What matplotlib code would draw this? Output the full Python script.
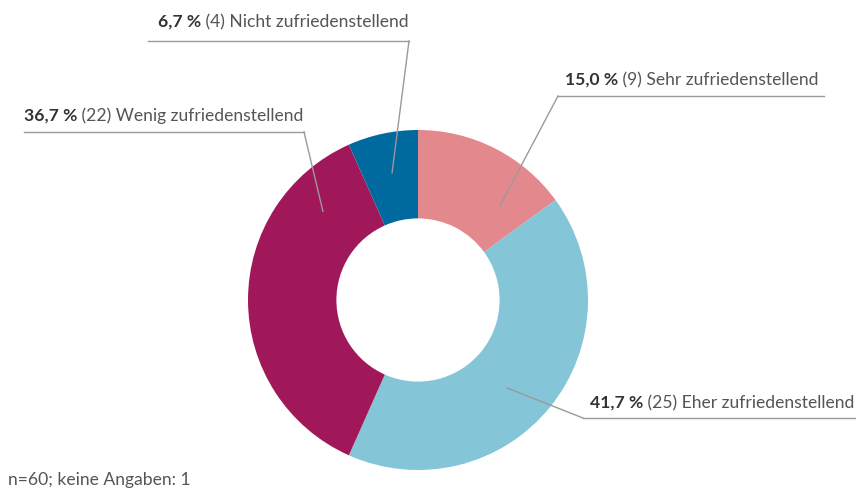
import matplotlib
matplotlib.use("Agg")
import matplotlib.pyplot as plt
import numpy as np

categories = ["Sehr zufriedenstellend", "Eher zufriedenstellend",
              "Wenig zufriedenstellend", "Nicht zufriedenstellend"]
counts = [9, 25, 22, 4]
colors = ["#E3898D", "#84C5D8", "#A1185A", "#00699D"]
footnote = "n=60; keine Angaben: 1"

W, H = 856, 490
fig = plt.figure(figsize=(W / 100, H / 100), dpi=100)
ax = fig.add_axes([0, 0, 1, 1])

cx, cy, R = 418, H - 300, 170
wedges, _ = ax.pie(counts, colors=colors, startangle=90, counterclock=False,
                   center=(cx, cy), radius=R, frame=True,
                   wedgeprops=dict(width=0.52 * R, linewidth=0))
ax.set_xlim(0, W)
ax.set_ylim(0, H)
ax.set_aspect("equal")
ax.axis("off")

FS = 12.6
total = sum(counts)
# label layout: (text x, text y centre, underline y, underline x0, x1, leader angle deg, leader radius)
layout = [
    (565, H - 80, H - 96, 558, 824, 49, 125),
    (590, H - 403, H - 418, 583, 856, -44.7, 125),
    (24, H - 116, H - 132, 24, 304, 137, 130),
    (158, H - 22, H - 41, 148, 409, 101.5, 130),
]
line_col = "#9a9a9a"
renderer = fig.canvas.get_renderer()
for cat, n, (tx, ty, uy, ux0, ux1, ang, lr) in zip(categories, counts, layout):
    pct = f"{100 * n / total:.1f}".replace(".", ",") + " %"
    t1 = ax.text(tx, ty, pct, fontsize=FS, fontweight="bold", color="#333333",
                 family="Lato", va="center", ha="left")
    bb = t1.get_window_extent(renderer=renderer)
    x_after = ax.transData.inverted().transform((bb.x1, bb.y0))[0]
    ax.text(x_after, ty, f" ({n}) {cat}", fontsize=FS, color="#555555",
            family="Lato", va="center", ha="left")
    ax.plot([ux0, ux1], [uy, uy], color=line_col, lw=1)
    px = cx + lr * np.cos(np.radians(ang))
    py = cy + lr * np.sin(np.radians(ang))
    ex = ux0 if abs(ux0 - cx) < abs(ux1 - cx) else ux1
    ax.plot([ex, px], [uy, py], color=line_col, lw=1)

ax.text(8, H - 480, footnote, fontsize=FS, color="#555555", family="Lato",
        va="center", ha="left")

fig.savefig("out.png", dpi=100)
